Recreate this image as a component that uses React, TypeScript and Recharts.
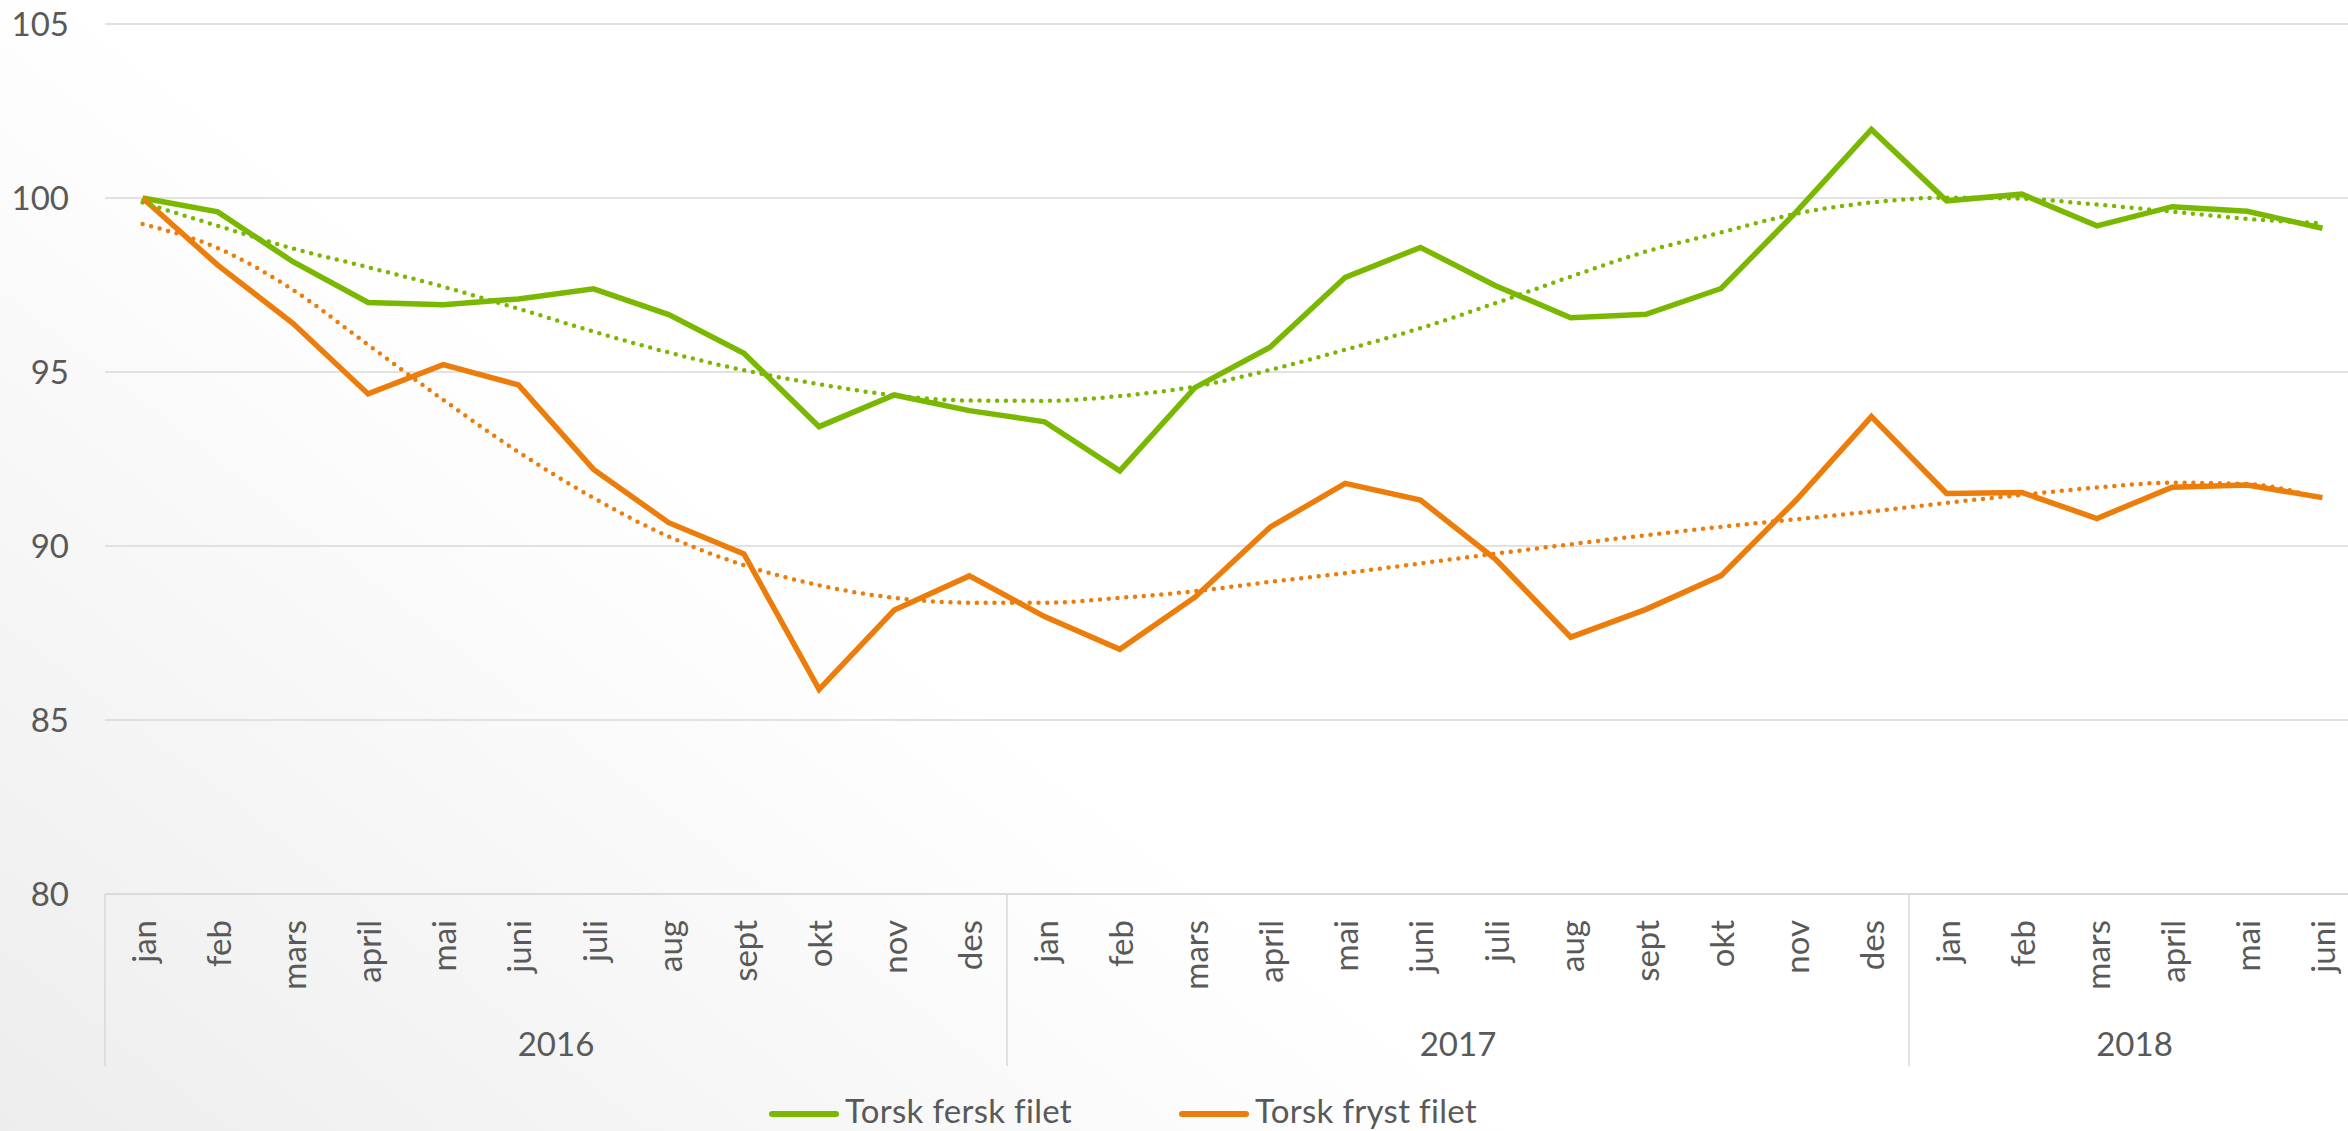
import React from 'react';
import { LineChart, Line, XAxis, YAxis, CartesianGrid, Legend } from 'recharts';

// ---- categories / tick labels ----
const MONTHS = ['jan', 'feb', 'mars', 'april', 'mai', 'juni', 'juli', 'aug', 'sept', 'okt', 'nov', 'des'];
const YEARS = ['2016', '2017', '2018'];
const MONTHS_PER_YEAR = [12, 12, 6];
const Y_TICKS = [80, 85, 90, 95, 100, 105];
const SERIES_NAMES = ['Torsk fersk filet', 'Torsk fryst filet'];

// ---- series values (index, jan 2016 = 100) ----
const FERSK = [
  100.0, 99.6, 98.17, 97.0, 96.93, 97.1, 97.39, 96.65, 95.54, 93.43, 94.34, 93.89,
  93.57, 92.16, 94.55, 95.71, 97.72, 98.58, 97.48, 96.56, 96.66, 97.4, 99.6, 101.97,
  99.92, 100.11, 99.2, 99.75, 99.62, 99.13,
];
const FRYST = [
  100.0, 98.07, 96.4, 94.37, 95.21, 94.63, 92.2, 90.67, 89.77, 85.88, 88.16, 89.14,
  87.97, 87.03, 88.53, 90.54, 91.8, 91.32, 89.62, 87.38, 88.18, 89.15, 91.32, 93.72,
  91.51, 91.54, 90.79, 91.69, 91.75, 91.39,
];
// trendlines (dotted)
const FERSK_TREND = [
  99.87, 99.2, 98.55, 98.01, 97.45, 96.82, 96.16, 95.56, 95.05, 94.65, 94.33, 94.18,
  94.17, 94.31, 94.58, 95.06, 95.64, 96.26, 96.98, 97.74, 98.46, 99.01, 99.55, 99.87,
  100.01, 99.98, 99.81, 99.61, 99.4, 99.27,
];
const FRYST_TREND = [
  99.25, 98.56, 97.36, 95.78, 94.2, 92.7, 91.38, 90.27, 89.45, 88.87, 88.51, 88.37,
  88.37, 88.51, 88.7, 88.97, 89.22, 89.5, 89.78, 90.05, 90.31, 90.55, 90.77, 90.99,
  91.24, 91.47, 91.68, 91.82, 91.78, 91.35,
];

// ---- layout / style ----
const GREEN = '#7AB800';
const ORANGE = '#ED7D0A';
const GRID = '#d9d9d9';
const TEXT = '#595959';
const FONT = 'Lato, "Open Sans", sans-serif';
const FS = 33;

const CHART_W = 2380;
const CHART_H = 1131;
const MARGIN = { top: 24, right: 20, left: 0, bottom: 0 };
const YAXIS_W = 105;
const XAXIS_H = 237;
const N = MONTHS_PER_YEAR.reduce((a, b) => a + b, 0);
const HALF_BAND = (CHART_W - MARGIN.left - MARGIN.right - YAXIS_W) / N / 2;

type Row = {
  key: string;
  month: string;
  year: string;
  yearIndex: number;
  monthIndex: number;
  fersk: number;
  fryst: number;
  ferskTrend: number;
  frystTrend: number;
};

const data: Row[] = [];
YEARS.forEach((yr, yi) => {
  for (let m = 0; m < MONTHS_PER_YEAR[yi]; m++) {
    const i = data.length;
    data.push({
      key: `${yr}-${MONTHS[m]}`,
      month: MONTHS[m],
      year: yr,
      yearIndex: yi,
      monthIndex: m,
      fersk: FERSK[i],
      fryst: FRYST[i],
      ferskTrend: FERSK_TREND[i],
      frystTrend: FRYST_TREND[i],
    });
  }
});

const MonthYearTick = (props: any) => {
  const { x, y, payload } = props;
  const i: number = props.index ?? payload.index;
  const row = data[i];
  if (!row) return null;
  const n = MONTHS_PER_YEAR[row.yearIndex];
  const els: React.ReactNode[] = [];
  const ly = y + 26;
  els.push(
    <text
      key="m"
      x={x}
      y={ly}
      transform={`rotate(-90 ${x} ${ly})`}
      textAnchor="end"
      dominantBaseline="central"
      fill={TEXT}
      fontSize={FS}
      fontFamily={FONT}
    >
      {row.month}
    </text>
  );
  if (row.monthIndex === 0) {
    els.push(
      <line key="s" x1={x - HALF_BAND} x2={x - HALF_BAND} y1={y} y2={y + 172} stroke={GRID} strokeWidth={1.5} />
    );
  }
  if (i === data.length - 1) {
    els.push(
      <line key="e" x1={x + HALF_BAND} x2={x + HALF_BAND} y1={y} y2={y + 172} stroke={GRID} strokeWidth={1.5} />
    );
  }
  const midIdx = n % 2 === 0 ? n / 2 - 1 : (n - 1) / 2;
  if (row.monthIndex === midIdx) {
    const lx = n % 2 === 0 ? x + HALF_BAND : x;
    els.push(
      <text
        key="y"
        x={lx}
        y={y + 149}
        textAnchor="middle"
        dominantBaseline="central"
        fill={TEXT}
        fontSize={FS}
        fontFamily={FONT}
      >
        {row.year}
      </text>
    );
  }
  return <g>{els}</g>;
};

const LegendContent = (props: any) => {
  const payload = (props.payload || []).filter((p: any) => p.type !== 'none');
  return (
    <div style={{ position: 'relative', width: 900, height: 40 }}>
      {payload.map((p: any, i: number) => (
        <div
          key={i}
          style={{ position: 'absolute', left: i * 410, top: 0, height: 40, display: 'flex', alignItems: 'center' }}
        >
          <svg width={80} height={40} style={{ display: 'block' }}>
            <line x1={7} x2={71} y1={24} y2={24} stroke={p.color} strokeWidth={6} strokeLinecap="round" />
          </svg>
          <span
            style={{
              fontFamily: FONT,
              fontSize: FS,
              lineHeight: '40px',
              color: TEXT,
              whiteSpace: 'nowrap',
              letterSpacing: '0.3px',
            }}
          >
            {p.value}
          </span>
        </div>
      ))}
    </div>
  );
};

export default function App() {
  return (
    <div
      style={{
        position: 'absolute',
        left: 0,
        top: 0,
        width: 2348,
        height: 1131,
        overflow: 'hidden',
        background: 'linear-gradient(38deg, #ededed 0%, #f6f6f6 20%, #ffffff 40%, #ffffff 100%)',
      }}
    >
      <LineChart width={CHART_W} height={CHART_H} data={data} margin={MARGIN}>
        <CartesianGrid vertical={false} stroke={GRID} strokeWidth={1.5} />
        <XAxis
          dataKey="key"
          type="category"
          scale="point"
          padding={{ left: HALF_BAND, right: HALF_BAND }}
          height={XAXIS_H}
          interval={0}
          tickLine={false}
          tickSize={0}
          tickMargin={0}
          axisLine={{ stroke: GRID, strokeWidth: 1.5 }}
          tick={<MonthYearTick />}
        />
        <YAxis
          width={YAXIS_W}
          domain={[80, 105]}
          ticks={Y_TICKS}
          interval={0}
          axisLine={false}
          tickLine={false}
          tickSize={0}
          tickMargin={36}
          tick={{ fill: TEXT, fontSize: FS, fontFamily: FONT }}
        />
        <Legend
          layout="horizontal"
          verticalAlign="middle"
          align="center"
          content={<LegendContent />}
          wrapperStyle={{ left: 765, top: 1090, width: 900, height: 40 }}
        />
        <Line
          dataKey="fersk"
          name={SERIES_NAMES[0]}
          type="linear"
          stroke={GREEN}
          strokeWidth={5.5}
          dot={false}
          activeDot={false}
          isAnimationActive={false}
        />
        <Line
          dataKey="fryst"
          name={SERIES_NAMES[1]}
          type="linear"
          stroke={ORANGE}
          strokeWidth={5.5}
          dot={false}
          activeDot={false}
          isAnimationActive={false}
        />
        <Line
          dataKey="ferskTrend"
          type="monotone"
          stroke={GREEN}
          strokeWidth={4.5}
          strokeDasharray="0 8.8"
          strokeLinecap="round"
          dot={false}
          activeDot={false}
          legendType="none"
          isAnimationActive={false}
        />
        <Line
          dataKey="frystTrend"
          type="monotone"
          stroke={ORANGE}
          strokeWidth={4.5}
          strokeDasharray="0 8.8"
          strokeLinecap="round"
          dot={false}
          activeDot={false}
          legendType="none"
          isAnimationActive={false}
        />
      </LineChart>
    </div>
  );
}
